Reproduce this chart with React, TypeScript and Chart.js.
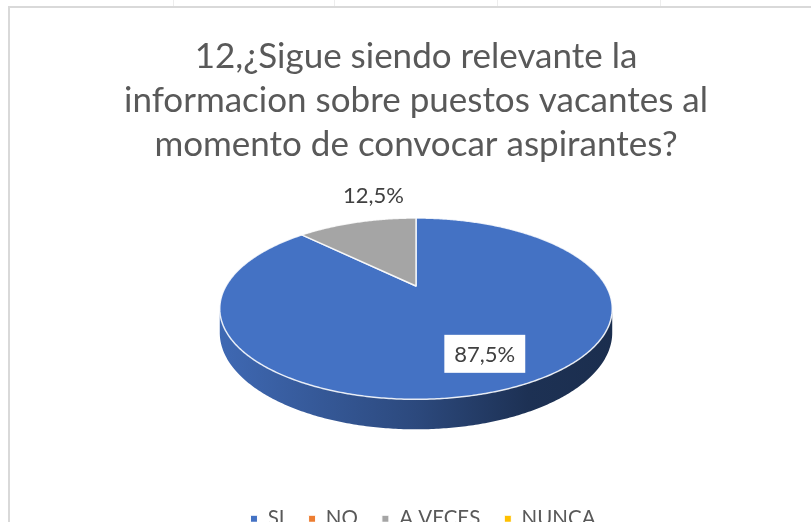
import React, { useEffect, useRef } from 'react';
import { Chart, registerables } from 'chart.js';

Chart.register(...registerables);

// ---- data ----
const categories = ['SI', 'NO', 'A VECES', 'NUNCA'];
const values = [87.5, 0, 12.5, 0];
const sliceColors = ['#4472c4', '#ed7d31', '#a5a5a5', '#ffc000'];
const titleLines = [
  '12,¿Sigue siendo relevante la',
  'informacion sobre puestos vacantes al',
  'momento de convocar aspirantes?',
];

// ---- layout / style ----
const FONT = 'Lato, "Open Sans", sans-serif';
const CANVAS_W = 811;
const CANVAS_H = 539;
const VIEW_H = 522;
const LEGEND_SHIFT_X = 7;
// 3D projection of the pie disk (layout only)
const PROJ = { cy: 286, sx: 190, sy: 85, persp: 0.25, depth: 22.5 };

function shade(hex: string, f: number) {
  const n = parseInt(hex.slice(1), 16);
  const r = Math.round(((n >> 16) & 255) * f);
  const g = Math.round(((n >> 8) & 255) * f);
  const b = Math.round((n & 255) * f);
  return `rgb(${r},${g},${b})`;
}

function makeProject(cx: number) {
  return (u: number, v: number, z: number): [number, number] => {
    const d = 1 - PROJ.persp * v;
    return [cx + (PROJ.sx * u) / d, PROJ.cy + (PROJ.sy * v) / d + (z * PROJ.depth) / d];
  };
}

function fmtPct(v: number) {
  return v.toFixed(1).replace('.', ',') + '%';
}

const pie3d = {
  id: 'pie3d',
  afterLayout(chart: any) {
    if (chart.legend) {
      chart.legend.left += LEGEND_SHIFT_X;
      chart.legend.right += LEGEND_SHIFT_X;
    }
  },
  beforeDraw(chart: any) {
    const ctx = chart.ctx;
    ctx.save();
    ctx.fillStyle = '#ffffff';
    ctx.fillRect(0, 0, chart.width, chart.height);
    // faint sheet grid lines above the chart frame
    ctx.strokeStyle = '#ededed';
    ctx.lineWidth = 1;
    [173, 334, 497, 660].forEach((x) => {
      ctx.beginPath();
      ctx.moveTo(x + 0.5, 0);
      ctx.lineTo(x + 0.5, 6);
      ctx.stroke();
    });
    // chart frame
    ctx.strokeStyle = '#d9d9d9';
    ctx.lineWidth = 2;
    ctx.strokeRect(9, 7, 1200, 1200);
    ctx.restore();
  },
  beforeDatasetsDraw(chart: any) {
    const ctx = chart.ctx;
    const meta = chart.getDatasetMeta(0);
    const arcs = meta.data;
    if (!arcs.length) return false;
    const cx = arcs[0].x;
    const P = makeProject(cx);
    const ds = chart.data.datasets[0];
    const lo = Math.asin(PROJ.persp);
    const hi = Math.PI - lo;
    const TWO_PI = Math.PI * 2;

    ctx.save();
    // sides
    arcs.forEach((arc: any, i: number) => {
      const { startAngle, endAngle } = arc.getProps(['startAngle', 'endAngle'], true);
      if (endAngle - startAngle <= 1e-6) return;
      const base = ds.backgroundColor[i];
      for (let k = -1; k <= 2; k++) {
        const a1 = Math.max(startAngle, lo + TWO_PI * k);
        const a2 = Math.min(endAngle, hi + TWO_PI * k);
        if (a2 - a1 <= 1e-6) continue;
        const steps = Math.max(2, Math.ceil((a2 - a1) / 0.01));
        ctx.beginPath();
        for (let j = 0; j <= steps; j++) {
          const a = a1 + ((a2 - a1) * j) / steps;
          const [x, y] = P(Math.cos(a), Math.sin(a), 0);
          if (j === 0) ctx.moveTo(x, y);
          else ctx.lineTo(x, y);
        }
        for (let j = steps; j >= 0; j--) {
          const a = a1 + ((a2 - a1) * j) / steps;
          const [x, y] = P(Math.cos(a), Math.sin(a), 1);
          ctx.lineTo(x, y);
        }
        ctx.closePath();
        const left = P(-1, 0, 0)[0] - PROJ.sx * 0.05;
        const right = P(1, 0, 0)[0] + PROJ.sx * 0.05;
        const g = ctx.createLinearGradient(left, 0, right, 0);
        g.addColorStop(0, shade(base, 0.92));
        g.addColorStop(0.5, shade(base, 0.64));
        g.addColorStop(0.78, shade(base, 0.43));
        g.addColorStop(1, shade(base, 0.4));
        ctx.fillStyle = g;
        ctx.fill();
      }
    });
    // top faces
    arcs.forEach((arc: any, i: number) => {
      const { startAngle, endAngle } = arc.getProps(['startAngle', 'endAngle'], true);
      if (endAngle - startAngle <= 1e-6) return;
      const steps = Math.max(2, Math.ceil((endAngle - startAngle) / 0.01));
      ctx.beginPath();
      const [vx, vy] = P(0, 0, 0);
      ctx.moveTo(vx, vy);
      for (let j = 0; j <= steps; j++) {
        const a = startAngle + ((endAngle - startAngle) * j) / steps;
        const [x, y] = P(Math.cos(a), Math.sin(a), 0);
        ctx.lineTo(x, y);
      }
      ctx.closePath();
      ctx.fillStyle = ds.backgroundColor[i];
      ctx.fill();
      ctx.lineJoin = 'round';
      ctx.strokeStyle = 'rgba(255,255,255,0.85)';
      ctx.lineWidth = 1.5;
      ctx.stroke();
    });
    ctx.restore();
    return false;
  },
  afterDraw(chart: any) {
    const ctx = chart.ctx;
    const meta = chart.getDatasetMeta(0);
    const arcs = meta.data;
    if (!arcs.length) return;
    const cx = arcs[0].x;
    const P = makeProject(cx);
    const data = chart.data.datasets[0].data as number[];
    const total = data.reduce((s, v) => s + v, 0);
    ctx.save();
    ctx.font = `22px ${FONT}`;
    ctx.textAlign = 'center';
    ctx.textBaseline = 'middle';
    arcs.forEach((arc: any, i: number) => {
      const v = data[i];
      if (!v) return;
      const pct = (v / total) * 100;
      const { startAngle, endAngle } = arc.getProps(['startAngle', 'endAngle'], true);
      const m = (startAngle + endAngle) / 2;
      const text = fmtPct(pct);
      if (pct >= 25) {
        const [px, y] = P(0.72 * Math.cos(m), 0.72 * Math.sin(m), 0);
        const x = px + 6;
        const w = ctx.measureText(text).width;
        ctx.fillStyle = '#ffffff';
        ctx.fillRect(x - w / 2 - 10, y - 19, w + 20, 38);
        ctx.fillStyle = '#404040';
        ctx.fillText(text, x, y + 1);
      } else {
        const [ex, ey] = P(Math.cos(m), Math.sin(m), 0);
        const x = cx + (ex - cx) * 0.72;
        ctx.fillStyle = '#404040';
        ctx.fillText(text, x, ey - 26);
      }
    });
    ctx.restore();
  },
};

export default function App() {
  const ref = useRef<HTMLCanvasElement | null>(null);
  useEffect(() => {
    if (!ref.current) return;
    const chart = new Chart(ref.current, {
      type: 'pie',
      data: {
        labels: categories,
        datasets: [
          {
            data: values,
            backgroundColor: sliceColors,
            borderColor: '#ffffff',
            borderWidth: 1,
            hoverOffset: 0,
          },
        ],
      },
      options: {
        responsive: false,
        animation: false,
        events: [],
        layout: { padding: { left: 21, right: 0, top: 0, bottom: 0 } },
        plugins: {
          tooltip: { enabled: false },
          title: {
            display: true,
            text: titleLines,
            color: '#595959',
            font: { family: FONT, size: 35, weight: 'normal', lineHeight: 1.25 },
            padding: { top: 35, bottom: 10 },
          },
          legend: {
            display: true,
            position: 'bottom',
            labels: {
              color: '#595959',
              font: { family: FONT, size: 20.5 },
              boxWidth: 7,
              boxHeight: 7,
              padding: 24,
            },
          },
        },
      },
      plugins: [pie3d],
    } as any);
    return () => chart.destroy();
  }, []);
  return (
    <div style={{ position: 'absolute', left: 0, top: 0, width: CANVAS_W, height: VIEW_H, overflow: 'hidden' }}>
      <canvas ref={ref} width={CANVAS_W} height={CANVAS_H} style={{ display: 'block' }} />
    </div>
  );
}
